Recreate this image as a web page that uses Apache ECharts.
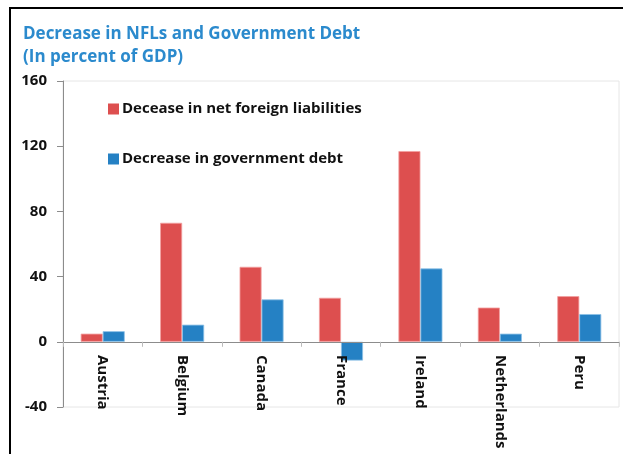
<!DOCTYPE html>
<html>
<head>
<meta charset="utf-8">
<script src="https://cdn.jsdelivr.net/npm/echarts@6/dist/echarts.min.js"></script>
<style>
  html, body { margin: 0; padding: 0; background: #fff; }
  #chart { width: 623px; height: 454px; }
</style>
</head>
<body>
<div id="chart"></div>
<script>
// Countries and the two decreases, in percent of GDP
const countries = ['Austria', 'Belgium', 'Canada', 'France', 'Ireland', 'Netherlands', 'Peru'];
const nflDecrease = [5, 73, 46, 27, 117, 21, 28];
const debtDecrease = [6.5, 10.5, 26, -11.5, 45, 5, 17];
const yTicks = { min: -40, max: 160, interval: 40 };

const FONT = '"Open Sans", "Noto Sans", sans-serif';
const RED = '#DD4F4F';
const BLUE = '#2581C4';

const chart = echarts.init(document.getElementById('chart'), null, { renderer: 'canvas' });

chart.setOption({
  animation: false,
  backgroundColor: '#ffffff',
  textStyle: { fontFamily: FONT },
  title: {
    text: 'Decrease in NFLs and Government Debt\n(In percent of GDP)',
    left: 18,
    top: 18,
    textStyle: {
      color: '#2B8ACD',
      fontFamily: FONT,
      fontWeight: 'bold',
      fontSize: 17,
      lineHeight: 23
    }
  },
  legend: {
    orient: 'vertical',
    left: 103,
    top: 94,
    itemGap: 30,
    itemWidth: 11,
    itemHeight: 11,
    icon: 'rect',
    itemStyle: { borderWidth: 0 },
    data: ['Decease in net foreign liabilities', 'Decrease in government debt'],
    textStyle: { fontFamily: FONT, fontWeight: 'bold', fontSize: 15, lineHeight: 20, color: '#111', padding: [0, 0, 0, -2] }
  },
  grid: {
    left: 63,
    top: 81,
    right: 4,
    bottom: 47,
    show: true,
    borderColor: '#E6E6E6',
    borderWidth: 1,
    outerBoundsMode: 'none',
    containLabel: false
  },
  xAxis: {
    type: 'category',
    data: countries,
    z: 5,
    axisLine: { onZero: true, lineStyle: { color: '#8C8C8C', width: 1 } },
    axisTick: { show: true, length: 5, lineStyle: { color: '#BBBBBB' } },
    axisLabel: {
      rotate: -90,
      interval: 0,
      // category names sit just under the zero line
      margin: -52,
      color: '#111',
      fontFamily: FONT,
      fontWeight: 'bold',
      fontSize: 15
    },
    splitLine: { show: false }
  },
  yAxis: {
    type: 'value',
    min: yTicks.min,
    max: yTicks.max,
    interval: yTicks.interval,
    axisLine: { show: true, lineStyle: { color: '#8C8C8C', width: 1 } },
    axisTick: { show: true, length: 6, lineStyle: { color: '#8C8C8C' } },
    axisLabel: {
      margin: 16,
      color: '#111',
      fontFamily: FONT,
      fontWeight: 'bold',
      fontSize: 15
    },
    splitLine: { show: false }
  },
  series: [
    {
      name: 'Decease in net foreign liabilities',
      type: 'bar',
      data: nflDecrease,
      barWidth: 22,
      barGap: '0%',
      itemStyle: { color: RED, borderColor: '#F2A0A0', borderWidth: 0.8 }
    },
    {
      name: 'Decrease in government debt',
      type: 'bar',
      data: debtDecrease,
      barWidth: 22,
      barGap: '0%',
      itemStyle: { color: BLUE, borderColor: '#8CC0E6', borderWidth: 0.8 }
    }
  ],
  graphic: [
    {
      type: 'rect',
      shape: { x: 10, y: 8, width: 640, height: 480 },
      style: { fill: 'none', stroke: '#000', lineWidth: 2 },
      silent: true
    }
  ]
});
</script>
</body>
</html>
